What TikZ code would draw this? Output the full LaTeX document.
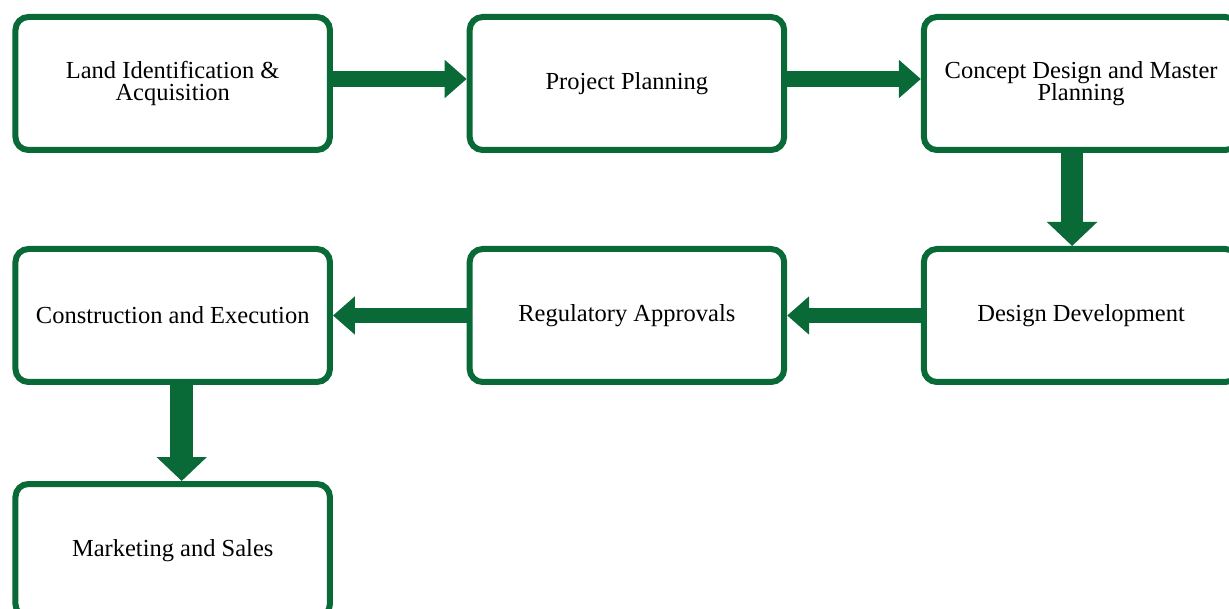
\documentclass[tikz,border=0pt]{standalone}
\usepackage{fontspec}
\setmainfont{Liberation Serif}
\usetikzlibrary{arrows.meta}
\definecolor{stagegreen}{RGB}{9,106,56}

\begin{document}
\begin{tikzpicture}[x=1pt, y=-1pt,
	stage/.style={draw=stagegreen, line width=6pt, rounded corners=13pt, fill=white,
		minimum width=314.5pt, minimum height=133pt, align=center, inner sep=0pt,
		font=\fontsize{24.5}{22.5}\selectfont},
	flow h/.style={draw=stagegreen, line width=15.5pt, -{Triangle[width=37pt,length=22pt]}},
	flow v/.style={draw=stagegreen, line width=22.5pt, -{Triangle[width=49pt,length=24pt]}}]
\useasboundingbox (0,0) rectangle (1229,609);

% stages
\foreach \n/\t [count=\x from 0] in {land/{Land Identification \&\\Acquisition}, planning/{Project Planning}, concept/{Concept Design and Master\\Planning}}
	\node [stage] (\n) at (172.7+\x*454.2,83.5) {\t};
\foreach \n/\t [count=\x from 0] in {construction/{Construction and Execution}, approvals/{Regulatory Approvals}, design/{Design Development}}
	\node [stage] (\n) at (172.7+\x*454.2,315.5) {\t};
\node [stage] (marketing) at (172.7,550.5) {Marketing and Sales};

% flow between stages
\foreach \a/\b in {land/planning, planning/concept}
	\draw [flow h] ([yshift=4.5pt]\a.east) -- ([yshift=4.5pt]\b.west);
\foreach \a/\b in {design/approvals, approvals/construction}
	\draw [flow h] (\a.west) -- (\b.east);
\draw [flow v] ([xshift=-9pt]concept.south) -- ([xshift=-9pt]design.north);
\draw [flow v] ([xshift=9pt]construction.south) -- ([xshift=9pt]marketing.north);

\end{tikzpicture}
\end{document}
